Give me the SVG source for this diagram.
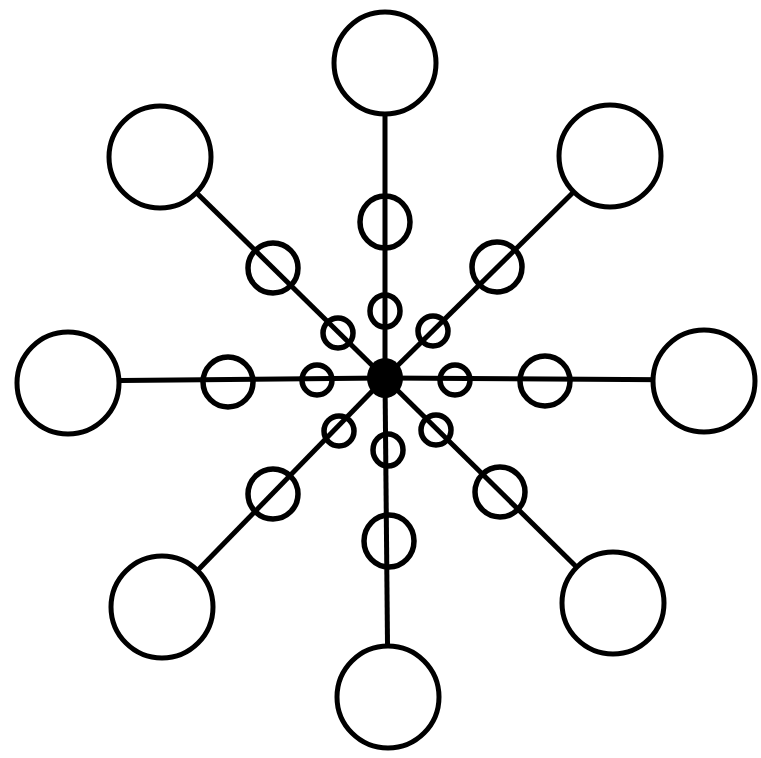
<svg xmlns="http://www.w3.org/2000/svg" width="761" height="758" viewBox="0 0 761 758">
<style>
.sp{stroke:#000;stroke-width:5;fill:none}
.big{stroke:#000;stroke-width:5;fill:#fff}
.ring{stroke:#000;stroke-width:5.5;fill:none}
</style>
<rect width="761" height="758" fill="#fff"/>
<g id="connectors">
<line class="sp" x1="385" y1="378" x2="385" y2="63"/>
<line class="sp" x1="385" y1="378" x2="160" y2="157"/>
<line class="sp" x1="385" y1="378" x2="610" y2="156"/>
<line class="sp" x1="385" y1="378" x2="68" y2="381"/>
<line class="sp" x1="385" y1="378" x2="704" y2="380"/>
<line class="sp" x1="385" y1="378" x2="162" y2="607"/>
<line class="sp" x1="385" y1="378" x2="613" y2="603"/>
<line class="sp" x1="385" y1="378" x2="388" y2="697"/>
</g>
<g id="hub"><ellipse cx="385" cy="378" rx="18" ry="20" fill="#000"/></g>
<g id="n-top"><circle class="big" cx="385" cy="63" r="51"/></g>
<g id="n-topleft"><circle class="big" cx="160" cy="157" r="51"/></g>
<g id="n-topright"><circle class="big" cx="610" cy="156" r="51"/></g>
<g id="n-left"><circle class="big" cx="68" cy="383" r="51"/></g>
<g id="n-right"><circle class="big" cx="704" cy="381" r="51"/></g>
<g id="n-bottomleft"><circle class="big" cx="162" cy="607" r="51"/></g>
<g id="n-bottomright"><circle class="big" cx="613" cy="603" r="51"/></g>
<g id="n-bottom"><circle class="big" cx="388" cy="697" r="51"/></g>
<g id="m-top"><ellipse class="ring" cx="385" cy="222" rx="25" ry="26"/></g>
<g id="m-topleft"><circle class="ring" cx="273" cy="268" r="25"/></g>
<g id="m-topright"><circle class="ring" cx="497" cy="267" r="25"/></g>
<g id="m-left"><circle class="ring" cx="228" cy="382" r="25"/></g>
<g id="m-right"><circle class="ring" cx="545" cy="381" r="25"/></g>
<g id="m-bottomleft"><circle class="ring" cx="273" cy="494" r="25"/></g>
<g id="m-bottomright"><circle class="ring" cx="500" cy="492" r="25"/></g>
<g id="m-bottom"><ellipse class="ring" cx="389" cy="541" rx="25" ry="26"/></g>
<g id="s-top"><ellipse class="ring" cx="385" cy="311" rx="15" ry="16"/></g>
<g id="s-topleft"><circle class="ring" cx="338" cy="333" r="15"/></g>
<g id="s-topright"><circle class="ring" cx="433" cy="331" r="15"/></g>
<g id="s-left"><ellipse class="ring" cx="317" cy="380" rx="15" ry="15"/></g>
<g id="s-right"><ellipse class="ring" cx="455" cy="380" rx="15" ry="15"/></g>
<g id="s-bottomleft"><circle class="ring" cx="339" cy="431" r="15"/></g>
<g id="s-bottomright"><circle class="ring" cx="436" cy="430" r="15"/></g>
<g id="s-bottom"><ellipse class="ring" cx="388" cy="450" rx="15" ry="16"/></g>
</svg>
